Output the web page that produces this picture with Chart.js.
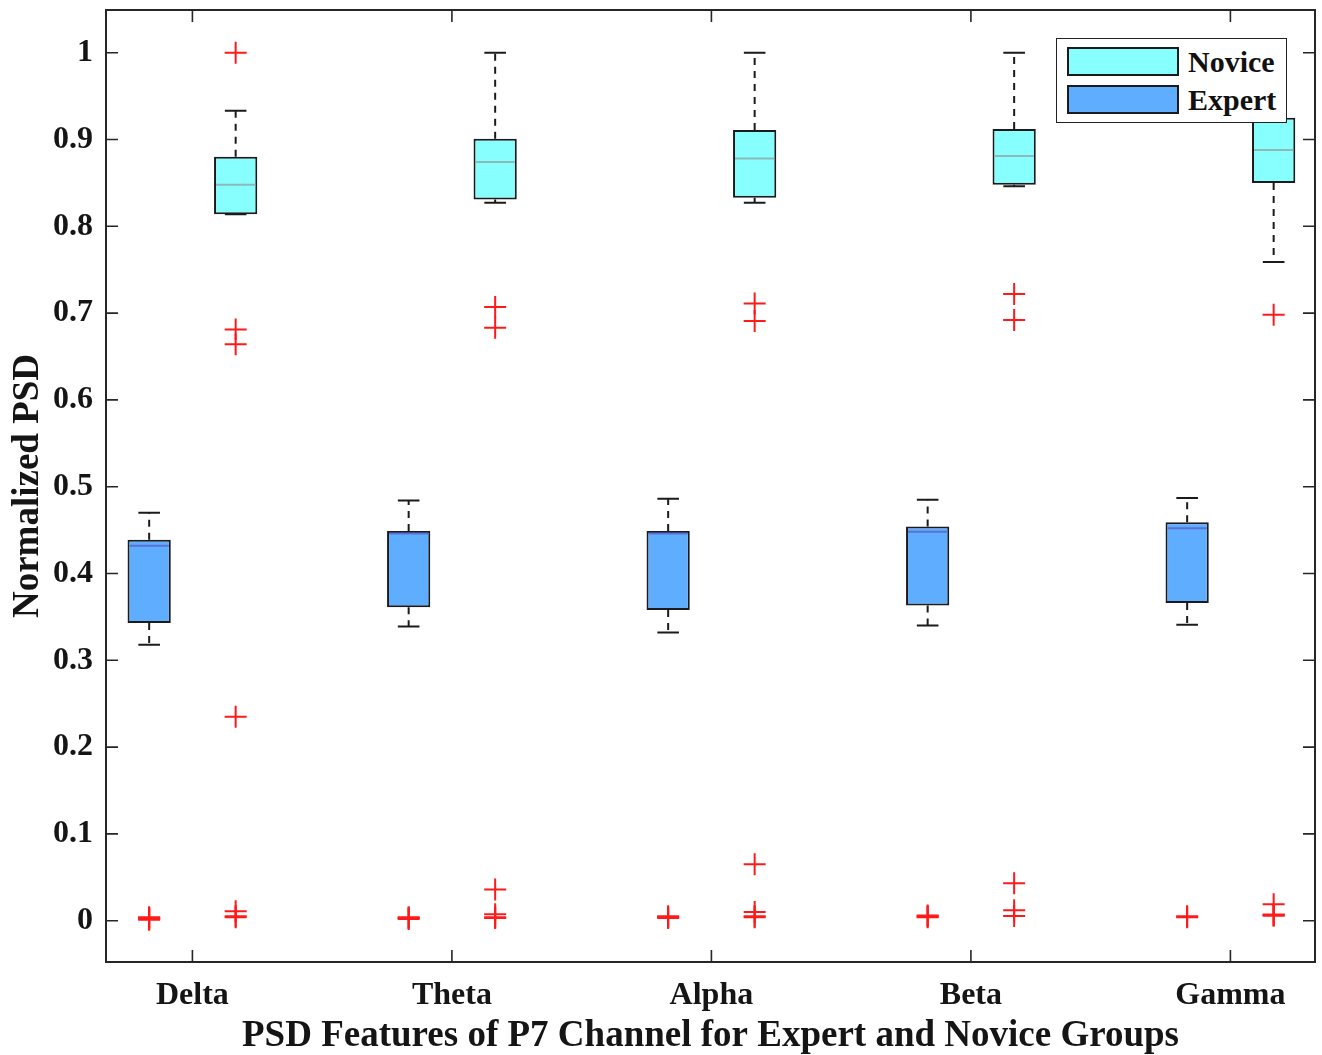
<!DOCTYPE html>
<html>
<head>
<meta charset="utf-8">
<title>PSD Features of P7 Channel</title>
<script src="https://cdn.jsdelivr.net/npm/chart.js@4.4.1/dist/chart.umd.min.js"></script>
<style>
  html, body { margin: 0; padding: 0; background: #fff; }
  #wrap { position: relative; width: 1322px; height: 1055px; }
  #legend {
    position: absolute; left: 1056px; top: 38px; width: 231px; height: 85px;
    box-sizing: border-box; border: 1.5px solid #222; background: #fff;
    font: bold 30px "Liberation Serif", "Times New Roman", serif; color: #111;
  }
  #legend .row { position: absolute; left: 10px; height: 29px; display: flex; align-items: center; }
  #legend .sw { width: 112px; height: 29px; box-sizing: border-box; border: 2px solid #1b1b1b; margin-right: 9px; }
</style>
</head>
<body>
<div id="wrap">
  <canvas id="c" width="1322" height="1055"></canvas>
  <div id="legend"></div>
</div>
<script>
// Frequency bands on the x axis
const bands = ['Delta', 'Theta', 'Alpha', 'Beta', 'Gamma'];
const yTickValues = [0, 0.1, 0.2, 0.3, 0.4, 0.5, 0.6, 0.7, 0.8, 0.9, 1];

// Expert group: box-plot summaries per band
const expertMin    = [0.318, 0.339, 0.332, 0.340, 0.341];
const expertQ1     = [0.343, 0.361, 0.358, 0.363, 0.366];
const expertMedian = [0.432, 0.446, 0.446, 0.448, 0.452];
const expertQ3     = [0.439, 0.449, 0.449, 0.454, 0.459];
const expertMax    = [0.470, 0.484, 0.486, 0.485, 0.487];
const expertOutliers = [
  [0.001, 0.002, 0.003, 0.004],
  [0.002, 0.003, 0.004],
  [0.003, 0.004, 0.005],
  [0.004, 0.005, 0.006],
  [0.004, 0.005]
];

// Novice group: box-plot summaries per band
const noviceMin    = [0.814, 0.827, 0.827, 0.846, 0.759];
const noviceQ1     = [0.814, 0.831, 0.833, 0.848, 0.850];
const noviceMedian = [0.848, 0.874, 0.878, 0.881, 0.888];
const noviceQ3     = [0.880, 0.901, 0.911, 0.912, 0.925];
const noviceMax    = [0.933, 1.000, 1.000, 1.000, 1.000];
const noviceOutliers = [
  [1.000, 0.681, 0.664, 0.235, 0.011, 0.005, 0.004],
  [0.707, 0.683, 0.036, 0.0075, 0.004, 0.003],
  [0.711, 0.691, 0.065, 0.010, 0.005, 0.004],
  [0.722, 0.692, 0.043, 0.012, 0.0055],
  [0.698, 0.019, 0.0066, 0.0058, 0.0072]
];

const FONT = '"Liberation Serif", "Times New Roman", serif';
const INK = '#151515';

const groups = [
  { label: 'Expert', offset: -1 / 6, fill: '#5eadfe', median: '#5b70d6',
    min: expertMin, q1: expertQ1, med: expertMedian, q3: expertQ3, max: expertMax, out: expertOutliers },
  { label: 'Novice', offset: 1 / 6, fill: '#86fffe', median: '#8db9b9',
    min: noviceMin, q1: noviceQ1, med: noviceMedian, q3: noviceQ3, max: noviceMax, out: noviceOutliers }
];

// Boxes (Q1..Q3) as floating bars on a numeric x axis
const boxDatasets = groups.map(g => ({
  type: 'bar',
  label: g.label,
  data: bands.map((b, i) => ({ x: i + 1 + g.offset, y: [g.q1[i], g.q3[i]] })),
  backgroundColor: g.fill,
  borderColor: '#1b1b1b',
  borderWidth: 2,
  borderSkipped: false,
  grouped: false,
  categoryPercentage: 1,
  barPercentage: 0.5
}));

// Outliers as red crosses
const outlierPoints = [];
groups.forEach(g => g.out.forEach((vals, i) => vals.forEach(v => outlierPoints.push({ x: i + 1 + g.offset, y: v }))));
const outlierDataset = {
  type: 'scatter',
  label: 'Outliers',
  data: outlierPoints,
  showLine: false,
  pointStyle: 'cross',
  pointRadius: 11,
  pointBorderWidth: 2,
  pointBorderColor: '#ff1a1a',
  pointBackgroundColor: '#ff1a1a'
};

// dataset index of each group's box bars
const BOX_START = 1;

// Whiskers, caps, medians, frame and inward tick marks
const boxPlotExtras = {
  id: 'boxPlotExtras',
  beforeDatasetsDraw(chart) {
    const ctx = chart.ctx, ys = chart.scales.y;
    ctx.save();
    ctx.strokeStyle = '#1b1b1b';
    ctx.lineWidth = 2;
    groups.forEach((g, gi) => {
      chart.getDatasetMeta(BOX_START + gi).data.forEach((bar, i) => {
        const cx = bar.x, half = bar.width / 4;
        const pMax = ys.getPixelForValue(g.max[i]), pQ3 = ys.getPixelForValue(g.q3[i]);
        const pMin = ys.getPixelForValue(g.min[i]), pQ1 = ys.getPixelForValue(g.q1[i]);
        ctx.setLineDash([7, 6]);
        ctx.beginPath();
        ctx.moveTo(cx, pQ3); ctx.lineTo(cx, pMax);
        ctx.moveTo(cx, pQ1); ctx.lineTo(cx, pMin);
        ctx.stroke();
        ctx.setLineDash([]);
        ctx.beginPath();
        ctx.moveTo(cx - half, pMax); ctx.lineTo(cx + half, pMax);
        ctx.moveTo(cx - half, pMin); ctx.lineTo(cx + half, pMin);
        ctx.stroke();
      });
    });
    ctx.restore();
  },
  afterDatasetsDraw(chart) {
    const ctx = chart.ctx, ys = chart.scales.y;
    ctx.save();
    ctx.lineWidth = 2;
    groups.forEach((g, gi) => {
      ctx.strokeStyle = g.median;
      chart.getDatasetMeta(BOX_START + gi).data.forEach((bar, i) => {
        const y = ys.getPixelForValue(g.med[i]);
        const w = bar.width / 2 - 2;
        ctx.beginPath();
        ctx.moveTo(bar.x - w, y); ctx.lineTo(bar.x + w, y);
        ctx.stroke();
      });
    });
    ctx.restore();
  },
  afterDraw(chart) {
    const ctx = chart.ctx, a = chart.chartArea;
    const xs = chart.scales.x, ys = chart.scales.y;
    const tick = 12;
    ctx.save();
    ctx.strokeStyle = '#262626';
    ctx.lineWidth = 1.6;
    ctx.beginPath();
    xs.ticks.forEach(t => {
      const x = xs.getPixelForValue(t.value);
      ctx.moveTo(x, a.bottom); ctx.lineTo(x, a.bottom - tick);
      ctx.moveTo(x, a.top); ctx.lineTo(x, a.top + tick);
    });
    ys.ticks.forEach(t => {
      const y = ys.getPixelForValue(t.value);
      ctx.moveTo(a.left, y); ctx.lineTo(a.left + tick, y);
      ctx.moveTo(a.right, y); ctx.lineTo(a.right - tick, y);
    });
    ctx.stroke();
    ctx.lineWidth = 2;
    ctx.strokeRect(a.left, a.top, a.right - a.left, a.bottom - a.top);
    ctx.restore();
  }
};

// fixed axis thickness; no extra label overhang padding
const fixAxis = size => axis => {
  if (axis.isHorizontal()) axis.height = size; else axis.width = size;
  axis.paddingTop = 0; axis.paddingBottom = 0; axis.paddingLeft = 0; axis.paddingRight = 0;
};

new Chart(document.getElementById('c'), {
  type: 'bar',
  data: { datasets: [outlierDataset, ...boxDatasets] },
  plugins: [boxPlotExtras],
  options: {
    responsive: false,
    animation: false,
    devicePixelRatio: 1,
    layout: { autoPadding: false, padding: { top: 10, right: 7, left: 0, bottom: 0 } },
    plugins: { legend: { display: false }, tooltip: { enabled: false } },
    scales: {
      x: {
        type: 'linear',
        offset: false,
        min: 0.667,
        max: 5.326,
        grid: { display: false, drawTicks: false },
        border: { display: false },
        afterBuildTicks: axis => { axis.ticks = bands.map((b, i) => ({ value: i + 1 })); },
        afterFit: fixAxis(93),
        ticks: {
          autoSkip: false, maxRotation: 0, padding: 15, color: INK,
          font: { family: FONT, size: 32, weight: 'bold' },
          callback: v => bands[Math.round(v) - 1] || ''
        },
        title: {
          display: true,
          text: 'PSD Features of P7 Channel for Expert and Novice Groups',
          color: INK,
          font: { family: FONT, size: 37, weight: 'bold', lineHeight: 1 },
          padding: { top: 0, bottom: 0 }
        }
      },
      y: {
        min: -0.0476,
        max: 1.0492,
        grid: { display: false, drawTicks: false },
        border: { display: false },
        afterBuildTicks: axis => { axis.ticks = yTickValues.map(v => ({ value: v })); },
        afterFit: fixAxis(106),
        ticks: {
          padding: 13, color: INK,
          font: { family: FONT, size: 32, weight: 'bold' },
          callback: v => String(Math.round(v * 10) / 10)
        },
        title: {
          display: true,
          text: 'Normalized PSD',
          color: INK,
          font: { family: FONT, size: 37, weight: 'bold' },
          padding: { top: 6, bottom: 0 }
        }
      }
    }
  }
});

// Legend: Novice listed first, then Expert
const legend = document.getElementById('legend');
[groups[1], groups[0]].forEach((g, k) => {
  const row = document.createElement('div');
  row.className = 'row';
  row.style.top = (8 + k * 38) + 'px';
  const sw = document.createElement('div');
  sw.className = 'sw';
  sw.style.background = g.fill;
  const txt = document.createElement('span');
  txt.textContent = g.label;
  row.appendChild(sw);
  row.appendChild(txt);
  legend.appendChild(row);
});
</script>
</body>
</html>
